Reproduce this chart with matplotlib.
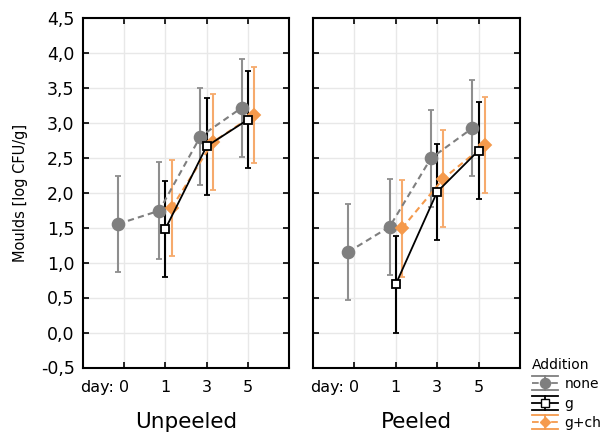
import numpy as np
import matplotlib
matplotlib.use("Agg")
import matplotlib.pyplot as plt
from matplotlib.lines import Line2D
from matplotlib.legend_handler import HandlerBase
from matplotlib.ticker import FuncFormatter

# data (log CFU/g), days 0, 1, 3, 5
days = ["0", "1", "3", "5"]
groups = ["Unpeeled", "Peeled"]

none_unpeeled = [1.55, 1.74, 2.80, 3.21]
none_unpeeled_err = [0.69, 0.69, 0.69, 0.70]
g_unpeeled = [np.nan, 1.48, 2.66, 3.04]
g_unpeeled_err = [0, 0.69, 0.69, 0.69]
gch_unpeeled = [np.nan, 1.78, 2.72, 3.11]
gch_unpeeled_err = [0, 0.69, 0.69, 0.69]

none_peeled = [1.15, 1.51, 2.49, 2.92]
none_peeled_err = [0.69, 0.69, 0.69, 0.69]
g_peeled = [np.nan, 0.69, 2.01, 2.60]
g_peeled_err = [0, 0.69, 0.69, 0.69]
gch_peeled = [np.nan, 1.49, 2.20, 2.68]
gch_peeled_err = [0, 0.69, 0.69, 0.69]

GRAY = "#7f7f7f"
GRAY_ERR = "#8e8e8e"
ORANGE = "#f59a4c"
ORANGE_ERR = "#f6aa6c"

series = [
    # label, color, errcolor, linestyle, marker, ms, mfc, offset
    ("none", GRAY, GRAY_ERR, (0, (3, 2)), "o", 8.5, GRAY, -0.15),
    ("g+ch", ORANGE, ORANGE_ERR, (0, (3, 2)), "D", 6.5, ORANGE, 0.15),
    ("g", "black", "black", "-", "s", 6, "white", 0.0),
]

data = {
    "Unpeeled": {"none": (none_unpeeled, none_unpeeled_err),
                 "g": (g_unpeeled, g_unpeeled_err),
                 "g+ch": (gch_unpeeled, gch_unpeeled_err)},
    "Peeled": {"none": (none_peeled, none_peeled_err),
               "g": (g_peeled, g_peeled_err),
               "g+ch": (gch_peeled, gch_peeled_err)},
}


class HandlerErr(HandlerBase):
    # legend key: cap line, dashed/solid line with marker, cap line
    def create_artists(self, legend, orig_handle, xdescent, ydescent,
                       width, height, fontsize, trans):
        c = orig_handle.get_color()
        ec = orig_handle.get_markeredgecolor()
        y = height / 2 - ydescent
        x0, x1 = -xdescent, -xdescent + width
        xm = (x0 + x1) / 2
        d = 5.0
        arts = []
        for yy in (y + d, y - d):
            arts.append(Line2D([x0, x1], [yy, yy], color=c, lw=1.3, transform=trans))
        arts.append(Line2D([xm, xm], [y - d, y + d], color=c, lw=1.3, transform=trans))
        arts.append(Line2D([x0, x1], [y, y], color=c, lw=1.3,
                           linestyle=orig_handle.get_linestyle(), transform=trans))
        arts.append(Line2D([xm], [y], marker=orig_handle.get_marker(),
                           markersize=orig_handle.get_markersize() * 0.85,
                           markerfacecolor=orig_handle.get_markerfacecolor(),
                           markeredgecolor=ec, linestyle="none", transform=trans))
        return arts


fig = plt.figure(figsize=(6.01, 4.34), dpi=100)
ax1 = fig.add_axes([83 / 601, 1 - 367.5 / 434, 206 / 601, 350 / 434])
ax2 = fig.add_axes([313 / 601, 1 - 367.5 / 434, 207 / 601, 350 / 434], sharey=ax1)

x = np.arange(len(days))
handles = {}
for ax, grp in zip([ax1, ax2], groups):
    for label, col, ecol, ls, mk, ms, mfc, off in series:
        vals, errs = data[grp][label]
        ax.errorbar(x + off, vals, yerr=errs, color=col, ecolor=ecol,
                    elinewidth=1.5, capsize=2.5, capthick=1.5,
                    linestyle=ls, lw=1.5 if label != "g" else 1.3,
                    marker=mk, markersize=ms, markerfacecolor=mfc,
                    markeredgecolor=col, markeredgewidth=1.3, zorder=3)
        handles[label] = Line2D([], [], color=col, linestyle=ls, marker=mk,
                                markersize=ms, markerfacecolor=mfc,
                                markeredgecolor=col)
    ax.set_xlim(-1, 4)
    ax.set_ylim(-0.5, 4.5)
    ax.set_xticks(x)
    ax.set_xticklabels(days)
    ax.set_yticks(np.arange(-0.5, 4.51, 0.5))
    ax.grid(True, color="#e8e8e8", lw=1.0, zorder=0)
    ax.tick_params(direction="in", length=4, width=1.2, top=True, right=True)
    ax.tick_params(axis="x", labelsize=11.5, pad=9)
    ax.tick_params(axis="y", labelsize=12.5, pad=6)
    for sp in ax.spines.values():
        sp.set_linewidth(1.5)
    ax.set_xlabel(grp, fontsize=15.5, labelpad=12)
    ax.text(-0.24, -9 * 100 / 72 / 350, "day:", transform=ax.get_xaxis_transform(),
            ha="right", va="top", fontsize=11.5)

ax1.yaxis.set_major_formatter(FuncFormatter(lambda v, p: f"{v:.1f}".replace(".", ",")))
ax2.tick_params(labelleft=False)
ax1.set_ylabel("Moulds [log CFU/g]", fontsize=10.5, labelpad=9)

leg_h = [handles["none"], handles["g"], handles["g+ch"]]
fig.legend(leg_h, ["none", "g", "g+ch"], title="Addition", loc="upper left",
           bbox_to_anchor=(532 / 601, 1 - 358 / 434), frameon=False,
           fontsize=10, title_fontsize=10, handlelength=1.9,
           handletextpad=0.45, labelspacing=0.38, borderpad=0.0,
           borderaxespad=0.0, alignment="left",
           handler_map={Line2D: HandlerErr()})

fig.savefig("out.png", dpi=100)
